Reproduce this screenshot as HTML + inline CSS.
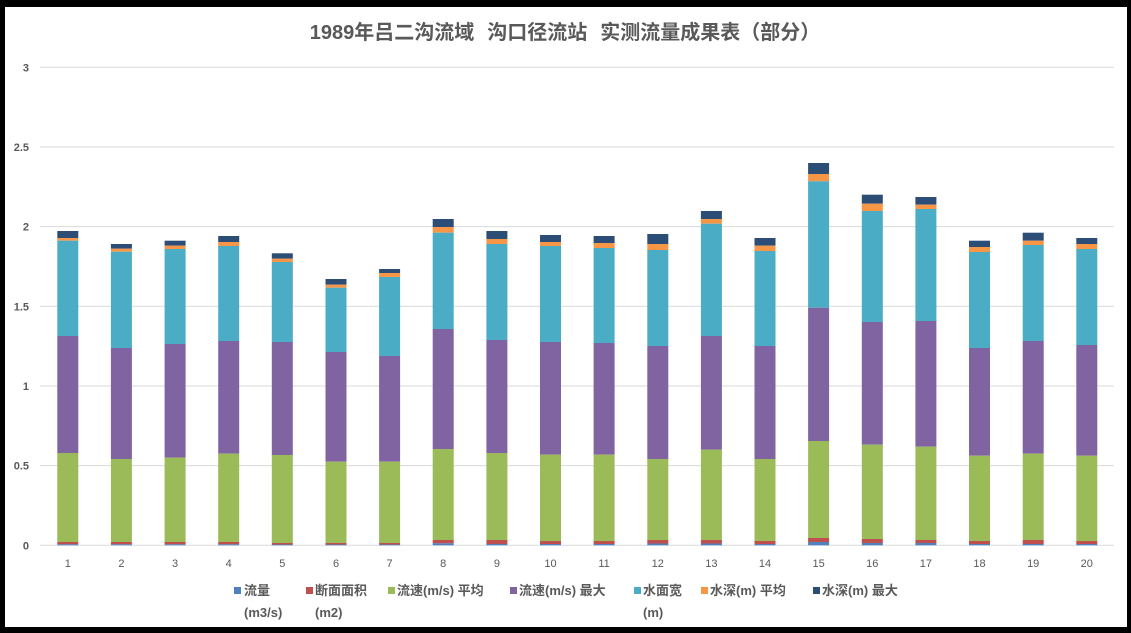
<!DOCTYPE html>
<html>
<head>
<meta charset="utf-8">
<style>
  html,body{margin:0;padding:0;background:#000;}
  body{width:1131px;height:633px;overflow:hidden;}
  svg{display:block;}
  .yl{font-family:"Liberation Sans","Noto Sans CJK SC",sans-serif;font-size:11px;font-weight:bold;fill:#595959;}
  .xl{font-family:"Liberation Sans","Noto Sans CJK SC",sans-serif;font-size:11px;fill:#595959;}
  .lg{font-family:"Liberation Sans","Noto Sans CJK SC",sans-serif;font-size:13px;font-weight:bold;fill:#595959;}
  .tt{font-family:"Liberation Sans","Noto Sans CJK SC",sans-serif;font-size:20px;font-weight:bold;fill:#595959;}
</style>
</head>
<body>
<svg width="1131" height="633" viewBox="0 0 1131 633" xmlns="http://www.w3.org/2000/svg">
  <rect x="0" y="0" width="1131" height="633" fill="#000"/>
  <rect x="5" y="7" width="1122" height="620" fill="#fff"/>

  <!-- title -->
  <text class="tt" x="565" y="39" text-anchor="middle"><tspan>1989年吕二沟流域</tspan><tspan dx="13">沟口径流站</tspan><tspan dx="13">实测流量成果表（部分）</tspan></text>

  <!-- gridlines -->
  <g stroke="#d9d9d9" stroke-width="1">
    <line x1="40" y1="67.3" x2="1114" y2="67.3"/>
    <line x1="40" y1="147" x2="1114" y2="147"/>
    <line x1="40" y1="226.6" x2="1114" y2="226.6"/>
    <line x1="40" y1="306.3" x2="1114" y2="306.3"/>
    <line x1="40" y1="386" x2="1114" y2="386"/>
    <line x1="40" y1="465.6" x2="1114" y2="465.6"/>
    <line x1="40" y1="545.3" x2="1114" y2="545.3"/>
  </g>

  <!-- y labels -->
  <g class="yl" text-anchor="end">
    <text x="29" y="71.3">3</text>
    <text x="29" y="151">2.5</text>
    <text x="29" y="230.6">2</text>
    <text x="29" y="310.3">1.5</text>
    <text x="29" y="390">1</text>
    <text x="29" y="469.6">0.5</text>
    <text x="29" y="549.3">0</text>
  </g>

  <!-- bars: navy, orange, teal, purple, green, red, blue -->
  <g id="bars">
    <g transform="translate(57.3,0)">
      <rect y="231" width="21" height="7" fill="#2c4d75"/>
      <rect y="238" width="21" height="2.7" fill="#f79646"/>
      <rect y="240.7" width="21" height="95.3" fill="#4bacc6"/>
      <rect y="336" width="21" height="117" fill="#8064a2"/>
      <rect y="453" width="21" height="89" fill="#9bbb59"/>
      <rect y="542" width="21" height="2.3" fill="#c0504d"/>
      <rect y="544.3" width="21" height="1" fill="#4f81bd"/>
    </g>
    <g transform="translate(110.9,0)">
      <rect y="244" width="21" height="4.7" fill="#2c4d75"/>
      <rect y="248.7" width="21" height="3" fill="#f79646"/>
      <rect y="251.7" width="21" height="96.3" fill="#4bacc6"/>
      <rect y="348" width="21" height="111" fill="#8064a2"/>
      <rect y="459" width="21" height="83" fill="#9bbb59"/>
      <rect y="542" width="21" height="2.3" fill="#c0504d"/>
      <rect y="544.3" width="21" height="1" fill="#4f81bd"/>
    </g>
    <g transform="translate(164.6,0)">
      <rect y="240.7" width="21" height="5" fill="#2c4d75"/>
      <rect y="245.7" width="21" height="3.3" fill="#f79646"/>
      <rect y="249" width="21" height="95" fill="#4bacc6"/>
      <rect y="344" width="21" height="113.7" fill="#8064a2"/>
      <rect y="457.7" width="21" height="84.3" fill="#9bbb59"/>
      <rect y="542" width="21" height="2.3" fill="#c0504d"/>
      <rect y="544.3" width="21" height="1" fill="#4f81bd"/>
    </g>
    <g transform="translate(218.2,0)">
      <rect y="236" width="21" height="6" fill="#2c4d75"/>
      <rect y="242" width="21" height="4" fill="#f79646"/>
      <rect y="246" width="21" height="95" fill="#4bacc6"/>
      <rect y="341" width="21" height="112.7" fill="#8064a2"/>
      <rect y="453.7" width="21" height="88.3" fill="#9bbb59"/>
      <rect y="542" width="21" height="2.3" fill="#c0504d"/>
      <rect y="544.3" width="21" height="1" fill="#4f81bd"/>
    </g>
    <g transform="translate(271.8,0)">
      <rect y="253.3" width="21" height="5.4" fill="#2c4d75"/>
      <rect y="258.7" width="21" height="3.3" fill="#f79646"/>
      <rect y="262" width="21" height="80" fill="#4bacc6"/>
      <rect y="342" width="21" height="113" fill="#8064a2"/>
      <rect y="455" width="21" height="88" fill="#9bbb59"/>
      <rect y="543" width="21" height="1.5" fill="#c0504d"/>
      <rect y="544.5" width="21" height="0.8" fill="#4f81bd"/>
    </g>
    <g transform="translate(325.5,0)">
      <rect y="279" width="21" height="5.7" fill="#2c4d75"/>
      <rect y="284.7" width="21" height="3" fill="#f79646"/>
      <rect y="287.7" width="21" height="64.3" fill="#4bacc6"/>
      <rect y="352" width="21" height="109.7" fill="#8064a2"/>
      <rect y="461.7" width="21" height="81.3" fill="#9bbb59"/>
      <rect y="543" width="21" height="1.5" fill="#c0504d"/>
      <rect y="544.5" width="21" height="0.8" fill="#4f81bd"/>
    </g>
    <g transform="translate(379.1,0)">
      <rect y="269" width="21" height="4" fill="#2c4d75"/>
      <rect y="273" width="21" height="4" fill="#f79646"/>
      <rect y="277" width="21" height="79" fill="#4bacc6"/>
      <rect y="356" width="21" height="105.7" fill="#8064a2"/>
      <rect y="461.7" width="21" height="81.3" fill="#9bbb59"/>
      <rect y="543" width="21" height="1.5" fill="#c0504d"/>
      <rect y="544.5" width="21" height="0.8" fill="#4f81bd"/>
    </g>
    <g transform="translate(432.7,0)">
      <rect y="219" width="21" height="8" fill="#2c4d75"/>
      <rect y="227" width="21" height="5.7" fill="#f79646"/>
      <rect y="232.7" width="21" height="96.3" fill="#4bacc6"/>
      <rect y="329" width="21" height="120" fill="#8064a2"/>
      <rect y="449" width="21" height="91" fill="#9bbb59"/>
      <rect y="540" width="21" height="3.3" fill="#c0504d"/>
      <rect y="543.3" width="21" height="2" fill="#4f81bd"/>
    </g>
    <g transform="translate(486.4,0)">
      <rect y="231" width="21" height="8" fill="#2c4d75"/>
      <rect y="239" width="21" height="5" fill="#f79646"/>
      <rect y="244" width="21" height="96" fill="#4bacc6"/>
      <rect y="340" width="21" height="113" fill="#8064a2"/>
      <rect y="453" width="21" height="87" fill="#9bbb59"/>
      <rect y="540" width="21" height="4" fill="#c0504d"/>
      <rect y="544" width="21" height="1.3" fill="#4f81bd"/>
    </g>
    <g transform="translate(540,0)">
      <rect y="235" width="21" height="7" fill="#2c4d75"/>
      <rect y="242" width="21" height="4" fill="#f79646"/>
      <rect y="246" width="21" height="96" fill="#4bacc6"/>
      <rect y="342" width="21" height="112.7" fill="#8064a2"/>
      <rect y="454.7" width="21" height="86.3" fill="#9bbb59"/>
      <rect y="541" width="21" height="3" fill="#c0504d"/>
      <rect y="544" width="21" height="1.3" fill="#4f81bd"/>
    </g>
    <g transform="translate(593.6,0)">
      <rect y="236" width="21" height="7" fill="#2c4d75"/>
      <rect y="243" width="21" height="5" fill="#f79646"/>
      <rect y="248" width="21" height="95" fill="#4bacc6"/>
      <rect y="343" width="21" height="111.7" fill="#8064a2"/>
      <rect y="454.7" width="21" height="86.3" fill="#9bbb59"/>
      <rect y="541" width="21" height="3" fill="#c0504d"/>
      <rect y="544" width="21" height="1.3" fill="#4f81bd"/>
    </g>
    <g transform="translate(647.3,0)">
      <rect y="234" width="21" height="10" fill="#2c4d75"/>
      <rect y="244" width="21" height="6" fill="#f79646"/>
      <rect y="250" width="21" height="96" fill="#4bacc6"/>
      <rect y="346" width="21" height="113" fill="#8064a2"/>
      <rect y="459" width="21" height="81" fill="#9bbb59"/>
      <rect y="540" width="21" height="3.5" fill="#c0504d"/>
      <rect y="543.5" width="21" height="1.8" fill="#4f81bd"/>
    </g>
    <g transform="translate(700.9,0)">
      <rect y="211" width="21" height="8" fill="#2c4d75"/>
      <rect y="219" width="21" height="4.7" fill="#f79646"/>
      <rect y="223.7" width="21" height="112.3" fill="#4bacc6"/>
      <rect y="336" width="21" height="113.7" fill="#8064a2"/>
      <rect y="449.7" width="21" height="90.3" fill="#9bbb59"/>
      <rect y="540" width="21" height="3.5" fill="#c0504d"/>
      <rect y="543.5" width="21" height="1.8" fill="#4f81bd"/>
    </g>
    <g transform="translate(754.5,0)">
      <rect y="238" width="21" height="7.7" fill="#2c4d75"/>
      <rect y="245.7" width="21" height="5.3" fill="#f79646"/>
      <rect y="251" width="21" height="95" fill="#4bacc6"/>
      <rect y="346" width="21" height="113" fill="#8064a2"/>
      <rect y="459" width="21" height="82" fill="#9bbb59"/>
      <rect y="541" width="21" height="3" fill="#c0504d"/>
      <rect y="544" width="21" height="1.3" fill="#4f81bd"/>
    </g>
    <g transform="translate(808.1,0)">
      <rect y="163" width="21" height="11" fill="#2c4d75"/>
      <rect y="174" width="21" height="7.3" fill="#f79646"/>
      <rect y="181.3" width="21" height="126.4" fill="#4bacc6"/>
      <rect y="307.7" width="21" height="133.3" fill="#8064a2"/>
      <rect y="441" width="21" height="97" fill="#9bbb59"/>
      <rect y="538" width="21" height="4" fill="#c0504d"/>
      <rect y="542" width="21" height="3.3" fill="#4f81bd"/>
    </g>
    <g transform="translate(861.8,0)">
      <rect y="194.7" width="21" height="9" fill="#2c4d75"/>
      <rect y="203.7" width="21" height="7.3" fill="#f79646"/>
      <rect y="211" width="21" height="111" fill="#4bacc6"/>
      <rect y="322" width="21" height="122.7" fill="#8064a2"/>
      <rect y="444.7" width="21" height="94.3" fill="#9bbb59"/>
      <rect y="539" width="21" height="4" fill="#c0504d"/>
      <rect y="543" width="21" height="2.3" fill="#4f81bd"/>
    </g>
    <g transform="translate(915.4,0)">
      <rect y="197" width="21" height="7.7" fill="#2c4d75"/>
      <rect y="204.7" width="21" height="4.3" fill="#f79646"/>
      <rect y="209" width="21" height="112" fill="#4bacc6"/>
      <rect y="321" width="21" height="125.7" fill="#8064a2"/>
      <rect y="446.7" width="21" height="93.3" fill="#9bbb59"/>
      <rect y="540" width="21" height="3" fill="#c0504d"/>
      <rect y="543" width="21" height="2.3" fill="#4f81bd"/>
    </g>
    <g transform="translate(969,0)">
      <rect y="240.7" width="21" height="6.3" fill="#2c4d75"/>
      <rect y="247" width="21" height="5" fill="#f79646"/>
      <rect y="252" width="21" height="96" fill="#4bacc6"/>
      <rect y="348" width="21" height="107.7" fill="#8064a2"/>
      <rect y="455.7" width="21" height="85.3" fill="#9bbb59"/>
      <rect y="541" width="21" height="3" fill="#c0504d"/>
      <rect y="544" width="21" height="1.3" fill="#4f81bd"/>
    </g>
    <g transform="translate(1022.7,0)">
      <rect y="232.7" width="21" height="8" fill="#2c4d75"/>
      <rect y="240.7" width="21" height="4.3" fill="#f79646"/>
      <rect y="245" width="21" height="96" fill="#4bacc6"/>
      <rect y="341" width="21" height="112.7" fill="#8064a2"/>
      <rect y="453.7" width="21" height="86.3" fill="#9bbb59"/>
      <rect y="540" width="21" height="4" fill="#c0504d"/>
      <rect y="544" width="21" height="1.3" fill="#4f81bd"/>
    </g>
    <g transform="translate(1076.3,0)">
      <rect y="238" width="21" height="6" fill="#2c4d75"/>
      <rect y="244" width="21" height="5" fill="#f79646"/>
      <rect y="249" width="21" height="96" fill="#4bacc6"/>
      <rect y="345" width="21" height="110.7" fill="#8064a2"/>
      <rect y="455.7" width="21" height="85.3" fill="#9bbb59"/>
      <rect y="541" width="21" height="3" fill="#c0504d"/>
      <rect y="544" width="21" height="1.3" fill="#4f81bd"/>
    </g>
  </g>

  <!-- x labels -->
  <g class="xl" text-anchor="middle">
    <text x="67.8" y="567">1</text>
    <text x="121.4" y="567">2</text>
    <text x="175.1" y="567">3</text>
    <text x="228.7" y="567">4</text>
    <text x="282.3" y="567">5</text>
    <text x="336" y="567">6</text>
    <text x="389.6" y="567">7</text>
    <text x="443.2" y="567">8</text>
    <text x="496.9" y="567">9</text>
    <text x="550.5" y="567">10</text>
    <text x="604.1" y="567">11</text>
    <text x="657.8" y="567">12</text>
    <text x="711.4" y="567">13</text>
    <text x="765" y="567">14</text>
    <text x="818.6" y="567">15</text>
    <text x="872.3" y="567">16</text>
    <text x="925.9" y="567">17</text>
    <text x="979.5" y="567">18</text>
    <text x="1033.2" y="567">19</text>
    <text x="1086.8" y="567">20</text>
  </g>

  <!-- legend -->
  <g>
    <rect x="234" y="587" width="7" height="7" fill="#4f81bd"/>
    <text class="lg" x="244" y="595">流量</text>
    <text class="lg" x="244" y="617">(m3/s)</text>

    <rect x="306" y="587" width="7" height="7" fill="#c0504d"/>
    <text class="lg" x="315" y="595">断面面积</text>
    <text class="lg" x="315" y="617">(m2)</text>

    <rect x="388" y="587" width="7" height="7" fill="#9bbb59"/>
    <text class="lg" x="397" y="595">流速(m/s) 平均</text>

    <rect x="510" y="587" width="7" height="7" fill="#8064a2"/>
    <text class="lg" x="519" y="595">流速(m/s) 最大</text>

    <rect x="634" y="587" width="7" height="7" fill="#4bacc6"/>
    <text class="lg" x="643" y="595">水面宽</text>
    <text class="lg" x="643" y="617">(m)</text>

    <rect x="701" y="587" width="7" height="7" fill="#f79646"/>
    <text class="lg" x="710" y="595">水深(m) 平均</text>

    <rect x="813" y="587" width="7" height="7" fill="#2c4d75"/>
    <text class="lg" x="822" y="595">水深(m) 最大</text>
  </g>
</svg>
</body>
</html>
